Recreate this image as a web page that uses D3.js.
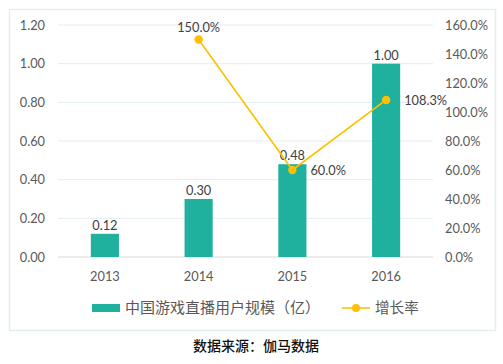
<!DOCTYPE html>
<html><head><meta charset="utf-8">
<script src="https://cdn.jsdelivr.net/npm/d3@7"></script>
<style>body{margin:0;background:#fff}svg{display:block}</style>
</head><body>
<script>
const years = ["2013","2014","2015","2016"];
const users = [0.12, 0.30, 0.48, 1.00];
const growth = [null, 150.0, 60.0, 108.3];
const leftTicks = [0, 0.2, 0.4, 0.6, 0.8, 1.0, 1.2];
const rightTicks = [0, 20, 40, 60, 80, 100, 120, 140, 160];
const barName = "中国游戏直播用户规模（亿）";
const lineName = "增长率";
const source = "数据来源：伽马数据";

const W = 503, H = 364;
const svg = d3.select("body").append("svg").attr("width", W).attr("height", H);
const numFont = "Lato, 'Noto Sans CJK SC', sans-serif";
const cjkFont = "'Noto Sans CJK SC', sans-serif";
const grey = "#595959", teal = "#20B09E", gold = "#FFC000";

svg.append("rect").attr("x", 9.5).attr("y", 9.5).attr("width", 486).attr("height", 321)
  .attr("fill", "#fff").attr("stroke", "#E3EEF1").attr("stroke-width", 1.5);

const x = d3.scaleBand().domain(years).range([58, 433]).paddingInner(0.7).paddingOuter(0.35);
const yL = d3.scaleLinear().domain([0, 1.2]).range([257, 25]);
const yR = d3.scaleLinear().domain([0, 160]).range([257, 25]);

// gridlines
svg.append("g").selectAll("line").data(leftTicks).join("line")
  .attr("x1", 58).attr("x2", 433).attr("y1", d => yL(d)).attr("y2", d => yL(d))
  .attr("stroke", d => d === 0 ? "#D9D9D9" : "#E2EEF2").attr("stroke-width", 1);

// left axis
const gL = svg.append("g").attr("transform", "translate(45,0)")
  .call(d3.axisLeft(yL).tickValues(leftTicks).tickFormat(d3.format(".2f")).tickSize(0).tickPadding(0));
gL.select(".domain").remove();
gL.selectAll("text").attr("font-family", numFont).attr("font-size", 12.8).attr("fill", grey);

// right axis
const gR = svg.append("g").attr("transform", "translate(445,0)")
  .call(d3.axisRight(yR).tickValues(rightTicks).tickFormat(d => d.toFixed(1) + "%").tickSize(0).tickPadding(0));
gR.select(".domain").remove();
gR.selectAll("text").attr("font-family", numFont).attr("font-size", 12.8).attr("fill", grey);

// x axis
const gX = svg.append("g").attr("transform", "translate(0,257)")
  .call(d3.axisBottom(x).tickSize(0).tickPadding(15));
gX.select(".domain").remove();
gX.selectAll("text").attr("font-family", numFont).attr("font-size", 12.8).attr("fill", grey);

// bars
const data = years.map((y, i) => ({year: y, v: users[i], g: growth[i]}));
svg.append("g").selectAll("rect").data(data).join("rect")
  .attr("x", d => x(d.year)).attr("width", x.bandwidth())
  .attr("y", d => yL(d.v)).attr("height", d => yL(0) - yL(d.v)).attr("fill", teal);
svg.append("g").selectAll("text").data(data).join("text")
  .attr("x", d => x(d.year) + x.bandwidth() / 2).attr("y", d => yL(d.v) - 4)
  .attr("text-anchor", "middle").attr("font-family", numFont).attr("font-size", 12.8).attr("fill", "#404040")
  .text(d => d.v.toFixed(2));

// line
const lineData = data.filter(d => d.g !== null);
const cx = d => x(d.year) + x.bandwidth() / 2;
svg.append("path").datum(lineData)
  .attr("d", d3.line().x(cx).y(d => yR(d.g)))
  .attr("fill", "none").attr("stroke", gold).attr("stroke-width", 1.6);
svg.append("g").selectAll("circle").data(lineData).join("circle")
  .attr("cx", cx).attr("cy", d => yR(d.g)).attr("r", 4.2).attr("fill", gold);
svg.append("g").selectAll("text").data(lineData).join("text")
  .attr("x", (d, i) => i === 0 ? cx(d) : cx(d) + 18)
  .attr("y", (d, i) => i === 0 ? yR(d.g) - 8 : yR(d.g) + 5)
  .attr("text-anchor", (d, i) => i === 0 ? "middle" : "start")
  .attr("font-family", numFont).attr("font-size", 12.8).attr("fill", "#404040")
  .text(d => d.g.toFixed(1) + "%");

// legend
const lg = svg.append("g");
lg.append("rect").attr("x", 92).attr("y", 304).attr("width", 28).attr("height", 8).attr("fill", teal);
lg.append("text").attr("x", 125).attr("y", 313).attr("font-family", cjkFont).attr("font-size", 15)
  .attr("fill", grey).text(barName);
lg.append("line").attr("x1", 342).attr("x2", 370).attr("y1", 308).attr("y2", 308)
  .attr("stroke", gold).attr("stroke-width", 1.6);
lg.append("circle").attr("cx", 356).attr("cy", 308).attr("r", 4).attr("fill", gold);
lg.append("text").attr("x", 375).attr("y", 313).attr("font-family", cjkFont).attr("font-size", 14.6)
  .attr("fill", grey).text(lineName);

// source
svg.append("text").attr("x", 256).attr("y", 351).attr("text-anchor", "middle")
  .attr("font-family", cjkFont).attr("font-size", 14).attr("font-weight", 500).attr("fill", "#111")
  .text(source);
</script>
</body></html>
